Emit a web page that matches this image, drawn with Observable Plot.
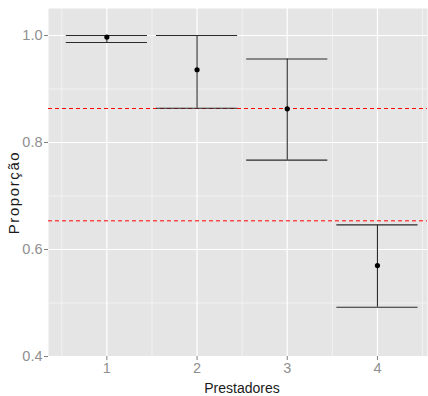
<!DOCTYPE html>
<html>
<head>
<meta charset="utf-8">
<script src="https://cdn.jsdelivr.net/npm/d3@7"></script>
<script src="https://cdn.jsdelivr.net/npm/@observablehq/plot@0.6"></script>
<style>
  html, body { margin: 0; padding: 0; background: #fff; }
  svg { display: block; }
</style>
</head>
<body>
<div id="chart"></div>
<script>
// Data
const prestadores = [1, 2, 3, 4];
const means  = [0.997, 0.936, 0.863, 0.570];
const lowers = [0.987, 0.864, 0.767, 0.492];
const uppers = [1.000, 1.000, 0.956, 0.646];
const refLines = [0.8636, 0.6536];
const yTicks = [0.4, 0.6, 0.8, 1.0];
const yMinor = [0.5, 0.7, 0.9];
const xMinor = [0.5, 1.5, 2.5, 3.5, 4.5];
const capHalf = 0.45;

const data = prestadores.map((p, i) => ({x: p, mean: means[i], lo: lowers[i], hi: uppers[i]}));

const font = "'Liberation Sans', Arial, sans-serif";

const chart = Plot.plot({
  width: 428,
  height: 396,
  marginLeft: 48,
  marginRight: 1,
  marginTop: 8,
  marginBottom: 40,
  style: {fontFamily: font, background: "#fff"},
  x: {type: "linear", domain: [0.353, 4.555]},
  y: {type: "linear", domain: [0.4, 1.0505]},
  marks: [
    Plot.frame({fill: "#E5E5E5", stroke: null}),
    Plot.ruleY(yMinor, {stroke: "#F2F2F2", strokeWidth: 1}),
    Plot.ruleX(xMinor, {stroke: "#F2F2F2", strokeWidth: 1}),
    Plot.ruleY(yTicks, {stroke: "#FFFFFF", strokeWidth: 1.2}),
    Plot.ruleX(prestadores, {stroke: "#FFFFFF", strokeWidth: 1.2}),
    Plot.ruleY(refLines, {stroke: "#FF0000", strokeWidth: 1, strokeDasharray: "4,3"}),
    Plot.ruleX(data, {x: "x", y1: "lo", y2: "hi", stroke: "#2a2a2a", strokeWidth: 1.1}),
    Plot.ruleY(data, {y: "hi", x1: d => d.x - capHalf, x2: d => d.x + capHalf, stroke: "#2a2a2a", strokeWidth: 1.1}),
    Plot.ruleY(data, {y: "lo", x1: d => d.x - capHalf, x2: d => d.x + capHalf, stroke: "#2a2a2a", strokeWidth: 1.1}),
    Plot.dot(data, {x: "x", y: "mean", r: 2.6, fill: "#000", stroke: null}),
    Plot.axisY({ticks: yTicks, tickFormat: d3.format(".1f"), tickSize: 4, tickPadding: 2, stroke: "#7F7F7F", fill: "#909090", fontSize: 14.5, label: null}),
    Plot.axisX({ticks: prestadores, tickFormat: d => String(d), tickSize: 4, tickPadding: 2, stroke: "#7F7F7F", fill: "#909090", fontSize: 14.5, label: null}),
    Plot.text(["Prestadores"], {frameAnchor: "bottom", lineAnchor: "bottom", dx: 4, dy: 36.5, fontSize: 14, fill: "#1a1a1a"}),
    Plot.text(["Proporção"], {frameAnchor: "left", textAnchor: "middle", lineAnchor: "bottom", rotate: -90, dx: -30, dy: 10, fontSize: 15, fill: "#1a1a1a"})
  ]
});
document.getElementById("chart").appendChild(chart);
document.querySelectorAll('text').forEach(t => { if (t.textContent === "Proporção") t.style.letterSpacing = "1.6px"; });
</script>
</body>
</html>
